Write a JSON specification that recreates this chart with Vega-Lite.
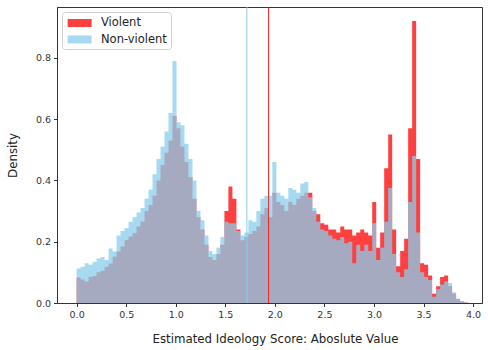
{
  "$schema": "https://vega.github.io/schema/vega-lite/v6.json",
  "width": 425,
  "height": 296,
  "autosize": {"type": "none"},
  "padding": {"left": 57, "top": 7, "right": 6, "bottom": 47},
  "config": {
    "font": "DejaVu Sans",
    "view": {"stroke": "#333", "strokeWidth": 1},
    "axis": {
      "grid": false,
      "domain": true,
      "domainColor": "#333",
      "tickColor": "#333",
      "tickSize": 3.5,
      "labelFontSize": 9.5,
      "labelColor": "#333",
      "titleFontSize": 11.8,
      "titleFontWeight": "normal",
      "titleColor": "#222",
      "labelPadding": 3
    }
  },
  "data": {
    "values": [
      {"score": 0, "Violent": 0.083, "Non-violent": 0.113},
      {"score": 0.0403, "Violent": 0.077, "Non-violent": 0.118},
      {"score": 0.0806, "Violent": 0.070, "Non-violent": 0.130},
      {"score": 0.1209, "Violent": 0.085, "Non-violent": 0.125},
      {"score": 0.1612, "Violent": 0.088, "Non-violent": 0.135},
      {"score": 0.2015, "Violent": 0.100, "Non-violent": 0.145},
      {"score": 0.2418, "Violent": 0.105, "Non-violent": 0.150},
      {"score": 0.2821, "Violent": 0.118, "Non-violent": 0.140},
      {"score": 0.3224, "Violent": 0.129, "Non-violent": 0.178},
      {"score": 0.3627, "Violent": 0.151, "Non-violent": 0.168},
      {"score": 0.403, "Violent": 0.168, "Non-violent": 0.220},
      {"score": 0.4433, "Violent": 0.184, "Non-violent": 0.235},
      {"score": 0.4836, "Violent": 0.206, "Non-violent": 0.245},
      {"score": 0.5239, "Violent": 0.217, "Non-violent": 0.265},
      {"score": 0.5642, "Violent": 0.228, "Non-violent": 0.280},
      {"score": 0.6045, "Violent": 0.250, "Non-violent": 0.295},
      {"score": 0.6448, "Violent": 0.266, "Non-violent": 0.310},
      {"score": 0.6851, "Violent": 0.300, "Non-violent": 0.340},
      {"score": 0.7254, "Violent": 0.320, "Non-violent": 0.370},
      {"score": 0.7657, "Violent": 0.350, "Non-violent": 0.420},
      {"score": 0.806, "Violent": 0.400, "Non-violent": 0.470},
      {"score": 0.8463, "Violent": 0.450, "Non-violent": 0.510},
      {"score": 0.8866, "Violent": 0.490, "Non-violent": 0.560},
      {"score": 0.9269, "Violent": 0.530, "Non-violent": 0.620},
      {"score": 0.9672, "Violent": 0.610, "Non-violent": 0.790},
      {"score": 1.0075, "Violent": 0.570, "Non-violent": 0.590},
      {"score": 1.0478, "Violent": 0.510, "Non-violent": 0.580},
      {"score": 1.0881, "Violent": 0.460, "Non-violent": 0.520},
      {"score": 1.1284, "Violent": 0.410, "Non-violent": 0.470},
      {"score": 1.1687, "Violent": 0.340, "Non-violent": 0.400},
      {"score": 1.209, "Violent": 0.280, "Non-violent": 0.300},
      {"score": 1.2493, "Violent": 0.240, "Non-violent": 0.270},
      {"score": 1.2896, "Violent": 0.190, "Non-violent": 0.220},
      {"score": 1.3299, "Violent": 0.150, "Non-violent": 0.170},
      {"score": 1.3702, "Violent": 0.140, "Non-violent": 0.160},
      {"score": 1.4105, "Violent": 0.160, "Non-violent": 0.180},
      {"score": 1.4508, "Violent": 0.190, "Non-violent": 0.215},
      {"score": 1.4911, "Violent": 0.300, "Non-violent": 0.265},
      {"score": 1.5314, "Violent": 0.380, "Non-violent": 0.260},
      {"score": 1.5717, "Violent": 0.340, "Non-violent": 0.260},
      {"score": 1.612, "Violent": 0.240, "Non-violent": 0.235},
      {"score": 1.6523, "Violent": 0.205, "Non-violent": 0.220},
      {"score": 1.6926, "Violent": 0.215, "Non-violent": 0.230},
      {"score": 1.7329, "Violent": 0.225, "Non-violent": 0.270},
      {"score": 1.7732, "Violent": 0.235, "Non-violent": 0.265},
      {"score": 1.8135, "Violent": 0.250, "Non-violent": 0.300},
      {"score": 1.8538, "Violent": 0.290, "Non-violent": 0.340},
      {"score": 1.8941, "Violent": 0.310, "Non-violent": 0.350},
      {"score": 1.9344, "Violent": 0.280, "Non-violent": 0.350},
      {"score": 1.9747, "Violent": 0.360, "Non-violent": 0.460},
      {"score": 2.015, "Violent": 0.330, "Non-violent": 0.360},
      {"score": 2.0553, "Violent": 0.320, "Non-violent": 0.350},
      {"score": 2.0956, "Violent": 0.300, "Non-violent": 0.340},
      {"score": 2.1359, "Violent": 0.330, "Non-violent": 0.375},
      {"score": 2.1762, "Violent": 0.320, "Non-violent": 0.370},
      {"score": 2.2165, "Violent": 0.340, "Non-violent": 0.360},
      {"score": 2.2568, "Violent": 0.350, "Non-violent": 0.390},
      {"score": 2.2971, "Violent": 0.360, "Non-violent": 0.395},
      {"score": 2.3374, "Violent": 0.360, "Non-violent": 0.345},
      {"score": 2.3777, "Violent": 0.300, "Non-violent": 0.310},
      {"score": 2.418, "Violent": 0.290, "Non-violent": 0.265},
      {"score": 2.4583, "Violent": 0.260, "Non-violent": 0.240},
      {"score": 2.4986, "Violent": 0.255, "Non-violent": 0.235},
      {"score": 2.5389, "Violent": 0.240, "Non-violent": 0.220},
      {"score": 2.5792, "Violent": 0.240, "Non-violent": 0.210},
      {"score": 2.6195, "Violent": 0.230, "Non-violent": 0.205},
      {"score": 2.6598, "Violent": 0.250, "Non-violent": 0.215},
      {"score": 2.7001, "Violent": 0.240, "Non-violent": 0.195},
      {"score": 2.7404, "Violent": 0.240, "Non-violent": 0.200},
      {"score": 2.7807, "Violent": 0.220, "Non-violent": 0.130},
      {"score": 2.821, "Violent": 0.230, "Non-violent": 0.190},
      {"score": 2.8613, "Violent": 0.240, "Non-violent": 0.170},
      {"score": 2.9016, "Violent": 0.230, "Non-violent": 0.190},
      {"score": 2.9419, "Violent": 0.220, "Non-violent": 0.170},
      {"score": 2.9822, "Violent": 0.330, "Non-violent": 0.260},
      {"score": 3.0225, "Violent": 0.180, "Non-violent": 0.140},
      {"score": 3.0628, "Violent": 0.230, "Non-violent": 0.180},
      {"score": 3.1031, "Violent": 0.440, "Non-violent": 0.265},
      {"score": 3.1434, "Violent": 0.550, "Non-violent": 0.375},
      {"score": 3.1837, "Violent": 0.240, "Non-violent": 0.160},
      {"score": 3.224, "Violent": 0.120, "Non-violent": 0.100},
      {"score": 3.2643, "Violent": 0.170, "Non-violent": 0.085},
      {"score": 3.3046, "Violent": 0.210, "Non-violent": 0.110},
      {"score": 3.3449, "Violent": 0.570, "Non-violent": 0.330},
      {"score": 3.3852, "Violent": 0.920, "Non-violent": 0.480},
      {"score": 3.4255, "Violent": 0.470, "Non-violent": 0.230},
      {"score": 3.4658, "Violent": 0.130, "Non-violent": 0.100},
      {"score": 3.5061, "Violent": 0.125, "Non-violent": 0.085},
      {"score": 3.5464, "Violent": 0.090, "Non-violent": 0.075},
      {"score": 3.5867, "Violent": 0.030, "Non-violent": 0.020},
      {"score": 3.627, "Violent": 0.055, "Non-violent": 0.045},
      {"score": 3.6673, "Violent": 0.085, "Non-violent": 0.060},
      {"score": 3.7076, "Violent": 0.090, "Non-violent": 0.070},
      {"score": 3.7479, "Violent": 0.055, "Non-violent": 0.065},
      {"score": 3.7882, "Violent": 0.030, "Non-violent": 0.035},
      {"score": 3.8285, "Violent": 0.012, "Non-violent": 0.015},
      {"score": 3.8688, "Violent": 0.005, "Non-violent": 0.006},
      {"score": 3.9091, "Violent": 0.002, "Non-violent": 0.002},
      {"score": 3.9494, "Violent": 0, "Non-violent": 0}
    ]
  },
  "transform": [
    {"fold": ["Violent", "Non-violent"], "as": ["series", "density"]}
  ],
  "layer": [
    {
      "transform": [{"filter": "datum.series === 'Violent'"}],
      "mark": {"type": "area", "interpolate": "step-after", "opacity": 0.75},
      "encoding": {
        "x": {"field": "score", "type": "quantitative", "scale": {"domain": [-0.198, 4.09], "nice": false, "zero": false},
              "axis": {"values": [0, 0.5, 1, 1.5, 2, 2.5, 3, 3.5, 4], "format": ".1f", "title": "Estimated Ideology Score: Aboslute Value", "titlePadding": 14, "titleX": 218}},
        "y": {"field": "density", "type": "quantitative", "stack": null, "scale": {"domain": [0, 0.966], "nice": false},
              "axis": {"values": [0, 0.2, 0.4, 0.6, 0.8], "format": ".1f", "title": "Density", "titlePadding": 16.5}},
        "color": {"field": "series", "type": "nominal",
                  "scale": {"domain": ["Violent", "Non-violent"], "range": ["#ff0000", "#87ceeb"]},
                  "legend": {"title": null, "orient": "top-left", "offset": 5, "labelFontSize": 11.5, "labelColor": "#222",
                             "symbolType": "M-0.77,-0.57H2.66V0.57H-0.77Z", "symbolSize": 196, "symbolOpacity": 0.75, "symbolStrokeWidth": 0,
                             "fillColor": "white", "strokeColor": "#d0d0d0", "cornerRadius": 3, "padding": 4, "rowPadding": 3.5, "labelOffset": 21}}
      }
    },
    {
      "transform": [{"filter": "datum.series === 'Non-violent'"}],
      "mark": {"type": "area", "interpolate": "step-after", "opacity": 0.75},
      "encoding": {
        "x": {"field": "score", "type": "quantitative"},
        "y": {"field": "density", "type": "quantitative", "stack": null},
        "color": {"field": "series", "type": "nominal"}
      }
    },
    {
      "data": {"values": [{"group": "Non-violent", "mean": 1.718}]},
      "mark": {"type": "rule", "color": "#87ceeb", "strokeWidth": 1},
      "encoding": {"x": {"field": "mean", "type": "quantitative"}}
    },
    {
      "data": {"values": [{"group": "Violent", "mean": 1.937}]},
      "mark": {"type": "rule", "color": "#ee2222", "strokeWidth": 1},
      "encoding": {"x": {"field": "mean", "type": "quantitative"}}
    }
  ]
}
